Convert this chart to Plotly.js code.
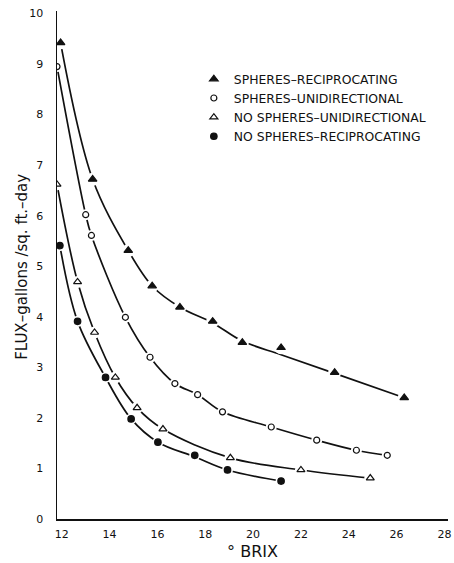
<!DOCTYPE html>
<html>
<head>
<meta charset="utf-8">
<script src="https://cdn.plot.ly/plotly-3.0.1.min.js"></script>
<style>html,body{margin:0;padding:0;background:#fff;}#chart{width:454px;height:563px;}</style>
</head>
<body>
<div id="chart"></div>
<script>
// Data
const names = ["SPHERES\u2013RECIPROCATING", "SPHERES\u2013UNIDIRECTIONAL", "NO SPHERES\u2013UNIDIRECTIONAL", "NO SPHERES\u2013RECIPROCATING"];

const srX = [11.95, 13.29, 14.78, 15.78, 16.94, 18.31, 19.55, 21.17, 23.41, 26.32];
const srY = [9.42, 6.72, 5.31, 4.61, 4.19, 3.91, 3.49, 3.39, 2.90, 2.40];
const suX = [11.8, 13.0, 13.24, 14.66, 15.69, 16.73, 17.68, 18.72, 20.76, 22.66, 24.32, 25.61];
const suY = [8.95, 6.02, 5.61, 3.99, 3.20, 2.68, 2.46, 2.12, 1.82, 1.56, 1.36, 1.26];
const nuX = [11.8, 12.66, 13.37, 14.24, 15.15, 16.23, 19.05, 22.0, 24.9];
const nuY = [6.62, 4.69, 3.69, 2.80, 2.20, 1.78, 1.21, 0.97, 0.81];
const nrX = [11.92, 12.66, 13.83, 14.9, 16.02, 17.56, 18.93, 21.17];
const nrY = [5.41, 3.91, 2.80, 1.98, 1.52, 1.26, 0.97, 0.75];

// Fitted curves as drawn in the picture
const fit1X = [11.95, 13.29, 14.78, 15.78, 16.94, 18.31, 19.55, 21.17, 23.41, 26.32];
const fit1Y = [9.42, 6.72, 5.31, 4.61, 4.19, 3.88, 3.52, 3.25, 2.88, 2.40];
const fit2X = suX, fit2Y = suY;
const fit3X = nuX, fit3Y = nuY;
const fit4X = nrX, fit4Y = [5.41, 3.91, 2.80, 1.98, 1.52, 1.23, 0.97, 0.75];

const xTicks = [12, 14, 16, 18, 20, 22, 24, 26, 28];
const yTicks = [0, 1, 2, 3, 4, 5, 6, 7, 8, 9, 10];
const xTitle = "\u00B0 BRIX";
const yTitle = "FLUX\u2013gallons /sq. ft.\u2013day";

const series = [
  {x: srX, y: srY, fx: fit1X, fy: fit1Y, sym: "triangle-up", size: 7.5, halo: 13},
  {x: suX, y: suY, fx: fit2X, fy: fit2Y, sym: "circle-open", size: 6, halo: 11},
  {x: nuX, y: nuY, fx: fit3X, fy: fit3Y, sym: "triangle-up-open", size: 7, halo: 12},
  {x: nrX, y: nrY, fx: fit4X, fy: fit4Y, sym: "circle", size: 6.5, halo: 11}
];

const traces = [];
series.forEach(s => {
  traces.push({x: s.fx, y: s.fy, mode: "lines", type: "scatter", showlegend: false, hoverinfo: "skip",
    line: {color: "#111", width: 1.7, shape: "spline", smoothing: 1}});
});
series.forEach(s => {
  traces.push({x: s.x, y: s.y, mode: "markers", type: "scatter", showlegend: false, hoverinfo: "skip",
    marker: {symbol: "circle", color: "#fff", size: s.halo, line: {width: 0}}});
});
series.forEach((s, i) => {
  traces.push({x: s.x, y: s.y, mode: "markers", type: "scatter", name: names[i],
    marker: {symbol: s.sym, color: "#111", size: s.size, line: {color: "#111", width: 1.2}}});
});

const layout = {
  width: 454, height: 563,
  margin: {l: 57, r: 6, t: 11, b: 44},
  paper_bgcolor: "#fff", plot_bgcolor: "#fff",
  font: {family: "DejaVu Sans", color: "#111", size: 11},
  showlegend: true,
  legend: {x: 0.35, y: 0.895, xanchor: "left", yanchor: "top", bgcolor: "rgba(0,0,0,0)",
    font: {family: "DejaVu Sans", size: 12.4, color: "#111"}, tracegroupgap: 0},
  xaxis: {range: [11.8, 28.15], tickvals: xTicks, ticktext: xTicks.map(String), showgrid: false, zeroline: false,
    showline: true, linecolor: "#111", linewidth: 1.5, ticks: "", ticklabelstandoff: 4,
    ticklabeloverflow: "allow", tickfont: {size: 11},
    title: {text: xTitle, font: {size: 16}, standoff: 6}},
  yaxis: {range: [0, 10.05], tickvals: yTicks, ticktext: yTicks.map(String), showgrid: false, zeroline: false,
    showline: true, linecolor: "#111", linewidth: 1.5, ticks: "", ticklabelstandoff: 10,
    ticklabeloverflow: "allow", tickfont: {size: 11}},
  annotations: [{text: yTitle, xref: "paper", yref: "paper", x: -0.09, y: 0.496,
    xanchor: "center", yanchor: "middle", textangle: -90, showarrow: false,
    font: {family: "DejaVu Sans", size: 15, color: "#111"}}]
};

Plotly.newPlot("chart", traces, layout, {displayModeBar: false, staticPlot: true});
</script>
</body>
</html>
